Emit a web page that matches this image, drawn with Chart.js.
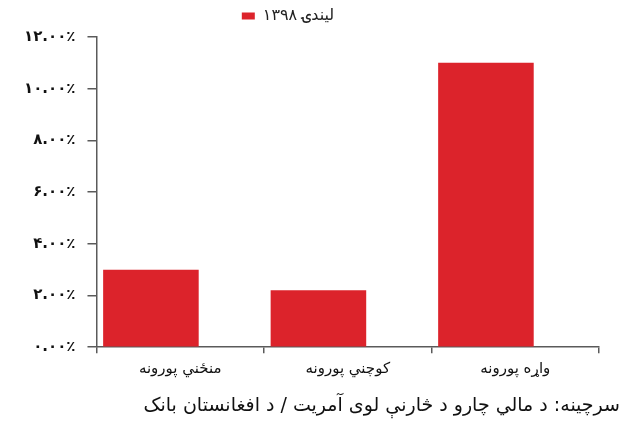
<!DOCTYPE html>
<html>
<head>
<meta charset="utf-8">
<script src="https://cdn.jsdelivr.net/npm/chart.js@4/dist/chart.umd.min.js"></script>
<style>
  html, body { margin: 0; padding: 0; background: #fff; }
  #wrap { width: 634px; height: 423px; }
</style>
</head>
<body>
<div id="wrap"><canvas id="chart"></canvas></div>
<script>
const categories = ['منځني پورونه', 'کوچني پورونه', 'واړه پورونه'];
const series1398 = [3.0, 2.2, 11.0];
const emptySlot = [null, null, null];
const seriesLabel = '\u200E۱۳۹۸ لیندۍ';
const yTicks = [0, 2, 4, 6, 8, 10, 12];
const sourceNote = 'سرچینه: د مالي چارو د څارنې لوی آمریت / د افغانستان بانک';

const FONT = "'DejaVu Sans', 'Noto Sans', sans-serif";
const AXIS = '#5a5a5a';

// 12 -> ۱۲.۰۰٪
function faPercent(v) {
  const s = v.toFixed(2);
  return s.replace(/[0-9]/g, d => '۰۱۲۳۴۵۶۷۸۹'[d]) + '٪';
}

// nudge the legend up and a little left of centre
const legendShift = {
  id: 'legendShift',
  afterLayout(chart) {
    const lg = chart.legend;
    if (!lg) return;
    lg.left -= 28;
    lg.right -= 28;
    lg.top -= 3;
    lg.bottom -= 3;
  }
};

const ctx = document.getElementById('chart').getContext('2d');
new Chart(ctx, {
  type: 'bar',
  data: {
    labels: categories,
    datasets: [
      {
        label: seriesLabel,
        data: series1398,
        backgroundColor: '#dc232b',
        borderWidth: 0
      },
      {
        label: '',
        data: emptySlot,
        backgroundColor: 'rgba(0,0,0,0)'
      }
    ]
  },
  options: {
    responsive: true,
    maintainAspectRatio: false,
    animation: false,
    categoryPercentage: 0.7,
    barPercentage: 1.63,
    layout: { padding: { left: 12, right: 14, top: 0, bottom: 6 } },
    plugins: {
      legend: {
        position: 'top',
        labels: {
          boxWidth: 13,
          boxHeight: 7,
          padding: 11,
          color: '#222',
          font: { family: FONT, size: 16 },
          filter: item => item.text !== ''
        }
      },
      title: {
        display: true,
        position: 'bottom',
        align: 'end',
        text: sourceNote,
        color: '#111',
        font: { family: FONT, size: 19, weight: 'normal' },
        padding: { top: 9, bottom: 0 }
      },
      tooltip: { enabled: false }
    },
    scales: {
      x: {
        offset: true,
        border: { color: AXIS, width: 1.5 },
        grid: {
          offset: true,
          drawOnChartArea: false,
          color: AXIS,
          lineWidth: 1.5,
          tickLength: 6
        },
        ticks: {
          color: '#111',
          padding: 7,
          font: { family: FONT, size: 15 }
        }
      },
      y: {
        min: 0,
        max: 12,
        afterBuildTicks: axis => { axis.ticks = yTicks.map(v => ({ value: v })); },
        border: { color: AXIS, width: 1.5 },
        grid: {
          drawOnChartArea: false,
          color: AXIS,
          lineWidth: 1.5,
          tickLength: 9
        },
        ticks: {
          color: '#111',
          padding: 12,
          font: { family: FONT, size: 15, weight: 'bold' },
          callback: v => faPercent(v)
        }
      },
      // empty strip on the right so the axis stops short of the caption
      gap: {
        position: 'right',
        display: true,
        grid: { display: false },
        border: { display: false },
        ticks: { display: false },
        afterFit: s => { s.width = 21; }
      }
    }
  },
  plugins: [legendShift]
});
</script>
</body>
</html>
